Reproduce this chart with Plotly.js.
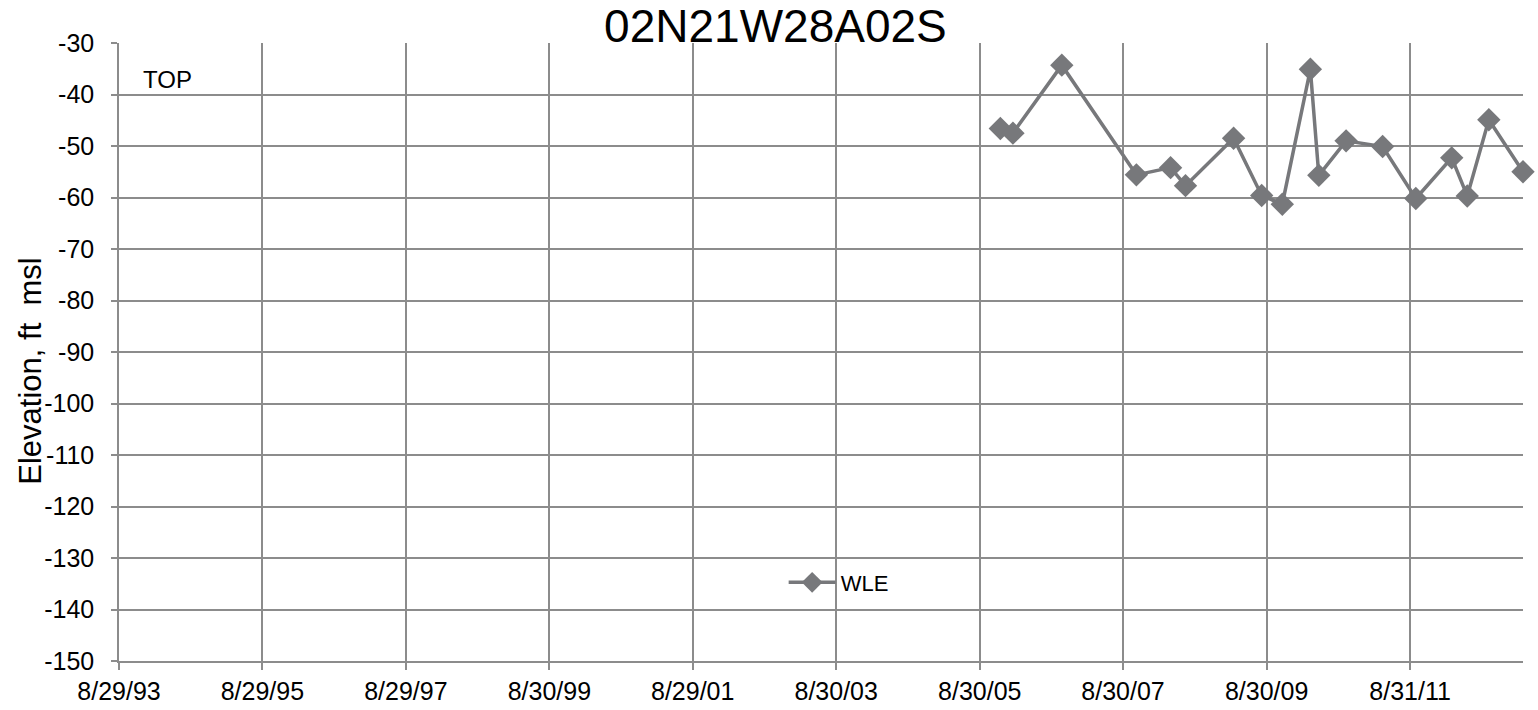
<!DOCTYPE html>
<html>
<head>
<meta charset="utf-8">
<script src="https://cdn.plot.ly/plotly-3.0.1.min.js"></script>
<style>html,body{margin:0;padding:0;background:#fff;}#chart{width:1538px;height:710px;}</style>
</head>
<body>
<div id="chart"></div>
<script>
const dates = ['2005-12-13','2006-02-15','2006-10-22','2007-11-06','2008-04-28','2008-07-13','2009-03-15','2009-08-05','2009-11-18','2010-04-10','2010-05-23','2010-10-09','2011-04-13','2011-09-29','2012-03-30','2012-06-17','2012-10-05','2013-03-28'];
const wle = [-46.6,-47.5,-34.3,-55.6,-54.2,-57.7,-48.5,-59.6,-61.3,-35.1,-55.7,-49.0,-50.1,-60.2,-52.3,-59.7,-44.9,-55.0];
const tickDates = ['1993-08-29','1995-08-29','1997-08-29','1999-08-30','2001-08-29','2003-08-30','2005-08-30','2007-08-30','2009-08-30','2011-08-31'];
const tickLabels = ['8/29/93','8/29/95','8/29/97','8/30/99','8/29/01','8/30/03','8/30/05','8/30/07','8/30/09','8/31/11'];
const xRange = ['1993-08-29','2013-03-28'];
const yTicks = [-30,-40,-50,-60,-70,-80,-90,-100,-110,-120,-130,-140,-150];

const font = 'Liberation Sans, Arial, sans-serif';
const gray = '#77787b';
const grid = '#8c8c8c';

Plotly.newPlot('chart', [{
  x: dates, y: wle, type: 'scatter', mode: 'lines+markers', name: 'WLE',
  line: {color: gray, width: 3.5},
  marker: {symbol: 'diamond', size: 18, color: gray},
  cliponaxis: false
}], {
  width: 1538, height: 710,
  margin: {l: 119, r: 15, t: 43, b: 49},
  paper_bgcolor: '#fff', plot_bgcolor: '#fff',
  font: {family: font, size: 22, color: '#000'},
  title: {text: '02N21W28A02S', font: {family: font, size: 46, color: '#000'}, x: 0.5042, xanchor: 'center', yref: 'container', y: 1 - 26/710, yanchor: 'middle'},
  xaxis: {
    type: 'date', range: xRange, tickmode: 'array', tickvals: tickDates, ticktext: tickLabels,
    showgrid: true, gridcolor: grid, gridwidth: 1.5, zeroline: false,
    showline: true, linecolor: grid, linewidth: 1.5,
    ticks: 'outside', ticklen: 7, tickcolor: grid, tickwidth: 1.5,
    tickfont: {family: font, size: 25, color: '#000'}
  },
  yaxis: {
    range: [-150, -30], tickmode: 'array', tickvals: yTicks, ticktext: yTicks.map(String),
    showgrid: true, gridcolor: grid, gridwidth: 1.5, zeroline: false,
    showline: true, linecolor: grid, linewidth: 1.5,
    ticks: 'outside', ticklen: 6, tickcolor: grid, tickwidth: 1.5,
    ticklabelstandoff: 12,
    tickfont: {family: font, size: 25, color: '#000'}
  },
  showlegend: true,
  legend: {x: 0.4734, y: 0.127, xanchor: 'left', yanchor: 'middle', itemwidth: 47, bgcolor: 'rgba(0,0,0,0)', font: {family: font, size: 22, color: '#000'}},
  annotations: [
    {text: 'TOP', xref: 'paper', yref: 'paper', x: 0.0157, y: 0.941, xanchor: 'left', yanchor: 'middle', showarrow: false, font: {family: font, size: 24, color: '#000'}},
    {text: 'Elevation, ft  msl', xref: 'paper', yref: 'paper', x: -0.063, y: 0.469, xanchor: 'center', yanchor: 'middle', textangle: -90, showarrow: false, font: {family: font, size: 31, color: '#000'}}
  ]
}, {displayModeBar: false});
</script>
</body>
</html>
